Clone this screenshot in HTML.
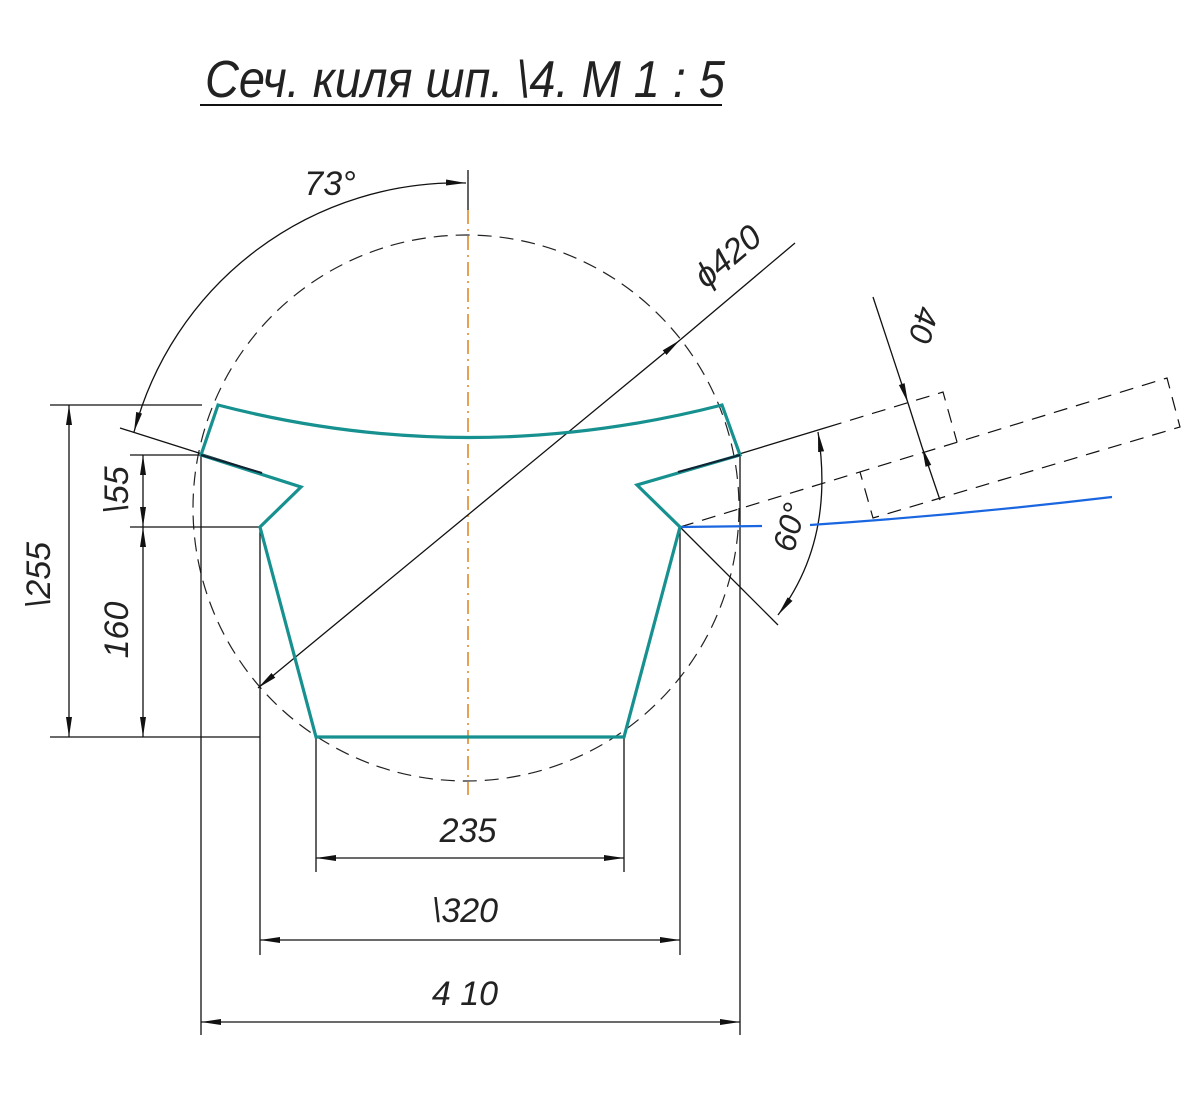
<!DOCTYPE html>
<html><head><meta charset="utf-8"><style>
html,body{margin:0;padding:0;background:#fff;}
svg{display:block}
text{font-family:"Liberation Sans",sans-serif;font-style:italic;fill:#222;}
</style></head><body>
<svg width="1200" height="1110" viewBox="0 0 1200 1110" xmlns="http://www.w3.org/2000/svg">
<defs>
<marker id="a" viewBox="0 0 20 8" refX="20" refY="4" markerWidth="20" markerHeight="8" markerUnits="userSpaceOnUse" orient="auto-start-reverse">
<path d="M0,1 L20,4 L0,7 Z" fill="#111"/></marker>
</defs>
<!-- title -->
<text x="205" y="97" font-size="52" textLength="520" lengthAdjust="spacingAndGlyphs" style="font-weight:normal">Сеч. киля шп. \4. М 1 : 5</text>
<line x1="200" y1="105" x2="722" y2="105" stroke="#111" stroke-width="2"/>

<!-- centerline -->
<line x1="468" y1="170" x2="468" y2="210" stroke="#111" stroke-width="1.3"/>
<line x1="468" y1="210" x2="468" y2="795" stroke="#e08a2a" stroke-width="1.6" stroke-dasharray="14,5,2,5"/>

<!-- dashed circle -->
<circle cx="466" cy="508" r="273" fill="none" stroke="#222" stroke-width="1.2" stroke-dasharray="14,8"/>

<g stroke="#111" stroke-width="1.3" fill="none">
<!-- 255 -->
<line x1="50" y1="405" x2="202" y2="405"/>
<line x1="50" y1="737" x2="260" y2="737"/>
<line x1="69" y1="405" x2="69" y2="737" marker-start="url(#a)" marker-end="url(#a)"/>
<!-- 55 / 160 -->
<line x1="130" y1="455" x2="201" y2="455"/>
<line x1="130" y1="527" x2="260" y2="527"/>
<line x1="143" y1="455" x2="143" y2="527" marker-start="url(#a)" marker-end="url(#a)"/>
<line x1="143" y1="527" x2="143" y2="737" marker-start="url(#a)" marker-end="url(#a)"/>
<!-- verticals -->
<line x1="201" y1="455" x2="201" y2="1035"/>
<line x1="740" y1="455" x2="740" y2="1035"/>
<line x1="260" y1="527" x2="260" y2="955"/>
<line x1="680" y1="527" x2="680" y2="955"/>
<line x1="316" y1="737" x2="316" y2="872"/>
<line x1="624" y1="737" x2="624" y2="872"/>
<!-- horizontals -->
<line x1="316" y1="858" x2="624" y2="858" marker-start="url(#a)" marker-end="url(#a)"/>
<line x1="260" y1="940" x2="680" y2="940" marker-start="url(#a)" marker-end="url(#a)"/>
<line x1="201" y1="1022" x2="740" y2="1022" marker-start="url(#a)" marker-end="url(#a)"/>
<!-- phi -->
<line x1="258" y1="688" x2="680" y2="340" marker-start="url(#a)" marker-end="url(#a)"/>
<line x1="680" y1="340" x2="795" y2="243"/>
<!-- 73 -->
<line x1="120" y1="428" x2="262" y2="473"/>
<path d="M134,432 A335,335 0 0 1 466,183" marker-start="url(#a)" marker-end="url(#a)"/>
<!-- right side -->
<line x1="736" y1="455" x2="828" y2="427"/>
<line x1="680" y1="527" x2="778" y2="625"/>
<path d="M818,432 Q835,540 778,615" marker-start="url(#a)" marker-end="url(#a)"/>
<line x1="873" y1="297" x2="908" y2="403" marker-end="url(#a)"/>
<line x1="940" y1="500" x2="922" y2="447" marker-end="url(#a)"/>
<line x1="908" y1="403" x2="922" y2="447"/>
</g>
<g stroke="#111" stroke-width="1.2" fill="none" stroke-dasharray="14,9">
<polyline points="828,427 943,392 957,442"/>
<polyline points="680,527 1167,378 1180,427 873,518 860,472"/>
</g>
<!-- blue -->
<line x1="680" y1="527" x2="762" y2="526" stroke="#1a66e0" stroke-width="2.2"/>
<path d="M810,525 Q960,515 1112,497" stroke="#1a66e0" stroke-width="2.2" fill="none"/>

<!-- teal shape -->
<path d="M218,405 Q468,470 722,405 L740,455 L637,485 L680,527 L624,737 L316,737 L260,527 L301,487 L201,455 Z" fill="none" stroke="#16918f" stroke-width="3.2" stroke-linejoin="miter"/>
<line x1="201" y1="455" x2="262" y2="473" stroke="#123" stroke-width="2"/>
<line x1="678" y1="472" x2="740" y2="455" stroke="#123" stroke-width="2"/>

<!-- labels -->
<text x="468" y="842" font-size="34" text-anchor="middle">235</text>
<text x="465" y="922" font-size="34" text-anchor="middle">\320</text>
<text x="465" y="1005" font-size="34" text-anchor="middle">4 10</text>
<text x="330" y="195" font-size="34" text-anchor="middle">73°</text>
<text font-size="34" text-anchor="middle" transform="translate(50,575) rotate(-90)">\255</text>
<text font-size="34" text-anchor="middle" transform="translate(128,630) rotate(-90)">160</text>
<text font-size="34" text-anchor="middle" transform="translate(128,490) rotate(-90)">\55</text>
<text font-size="34" text-anchor="middle" transform="translate(735,265) rotate(-40)">ϕ420</text>
<text font-size="32" text-anchor="middle" transform="translate(913,322) rotate(105)">40</text>
<text font-size="32" text-anchor="middle" transform="translate(800,530) rotate(-75)">60°</text>
</svg>
</body></html>
